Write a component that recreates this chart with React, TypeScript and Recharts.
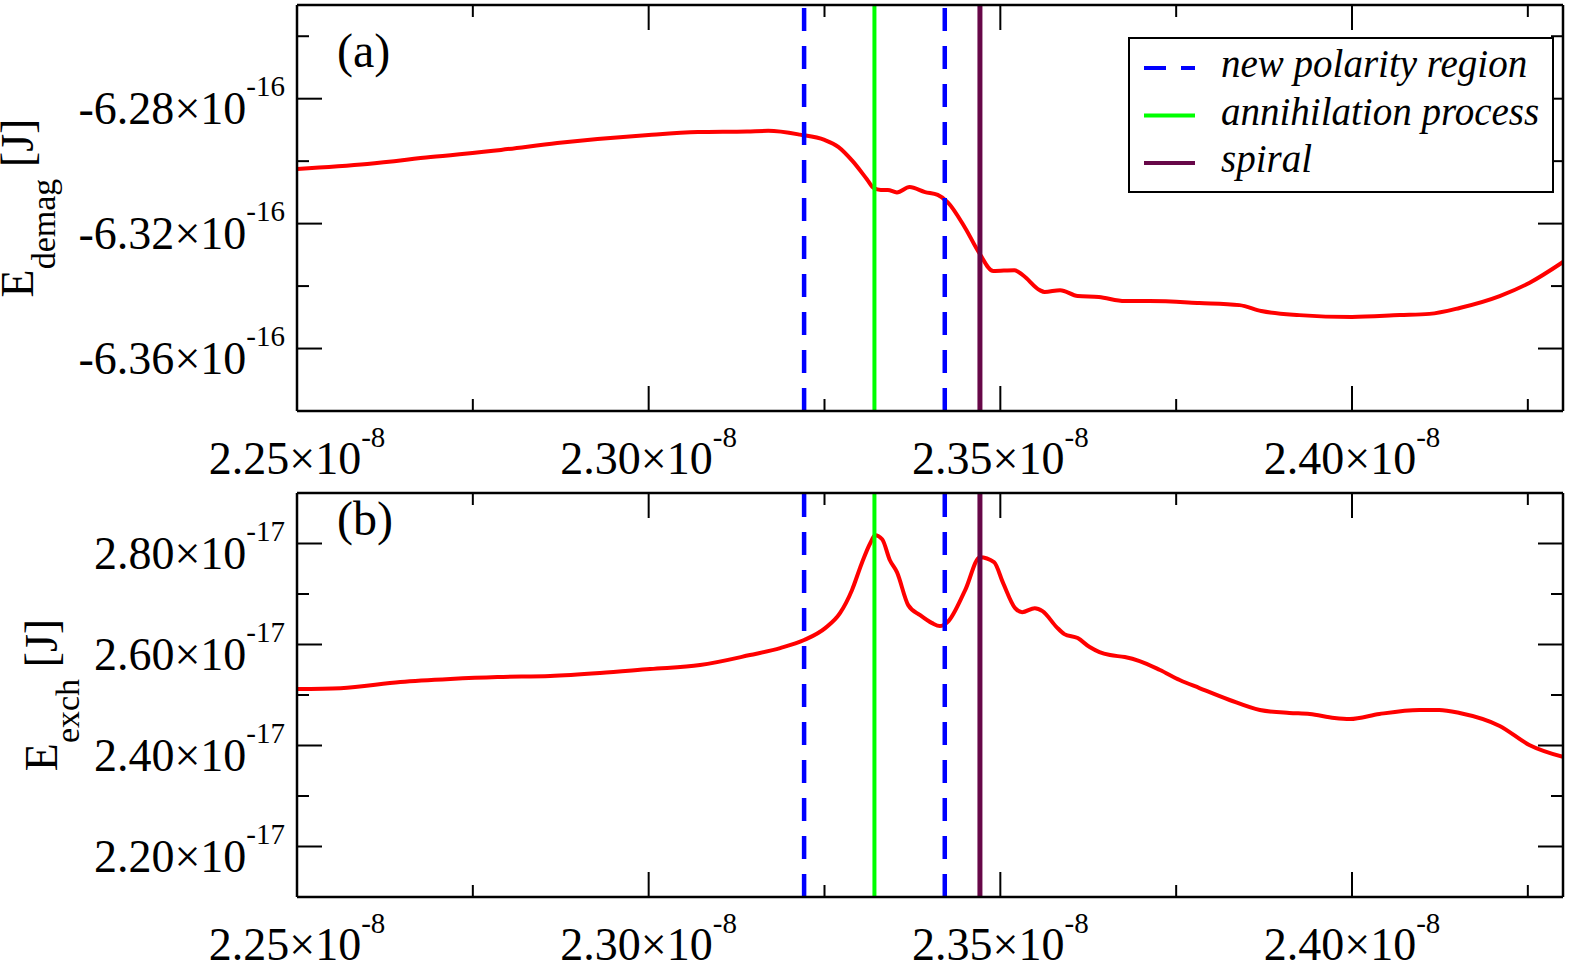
import { LineChart, Line, XAxis, YAxis, ReferenceLine, Legend, Label } from 'recharts';

const FONT = '"Liberation Serif", "Times New Roman", serif';

// time axis, in units of 1e-8 s
const X_MAJOR = [2.25, 2.3, 2.35, 2.4];
const X_MINOR = [2.275, 2.325, 2.375, 2.425];
const X_DOMAIN = [2.25, 2.43];

// panel (a): demag energy, units of 1e-16 J
const DEMAG_MAJOR = [-6.28, -6.32, -6.36];
const DEMAG_MINOR = [-6.26, -6.3, -6.34];
const DEMAG_DOMAIN = [-6.38, -6.25];
const DEMAG_T = [
  2.25, 2.26, 2.269, 2.279, 2.287, 2.3, 2.307, 2.314, 2.317, 2.3215, 2.325, 2.327, 2.329, 2.331, 2.332,
  2.333, 2.334, 2.3353, 2.3371, 2.3393, 2.3411, 2.3425, 2.345, 2.347, 2.349, 2.352, 2.3532, 2.3556,
  2.3563, 2.3585, 2.361, 2.364, 2.3677, 2.3712, 2.3783, 2.384, 2.3871, 2.3925, 2.4, 2.4068, 2.411,
  2.4153, 2.421, 2.4252, 2.43,
];
const DEMAG_E = [
  -6.3025, -6.3009, -6.2987, -6.2964, -6.2942, -6.2916, -6.2907, -6.2905, -6.2903, -6.2915, -6.2932,
  -6.2955, -6.3, -6.3057, -6.3086, -6.3092, -6.3092, -6.31, -6.3083, -6.3099, -6.3108, -6.3131, -6.3214,
  -6.3294, -6.3352, -6.3349, -6.3365, -6.3413, -6.3419, -6.3413, -6.3432, -6.3435, -6.3448, -6.3448,
  -6.3454, -6.3461, -6.348, -6.3493, -6.3499, -6.3493, -6.3489, -6.347, -6.3432, -6.339, -6.3323,
];

// panel (b): exchange energy, units of 1e-17 J
const EXCH_MAJOR = [2.2, 2.4, 2.6, 2.8];
const EXCH_MINOR = [2.3, 2.5, 2.7];
const EXCH_DOMAIN = [2.1, 2.9];
const EXCH_T = [
  2.25, 2.2562, 2.2647, 2.2718, 2.2785, 2.286, 2.2931, 2.3002, 2.3073, 2.3144, 2.3187, 2.3221, 2.3251,
  2.3272, 2.3289, 2.3303, 2.3315, 2.3322, 2.3332, 2.3343, 2.3353, 2.3369, 2.3386, 2.3403, 2.3414, 2.3425,
  2.345, 2.3471, 2.3491, 2.3504, 2.3521, 2.3531, 2.3549, 2.356, 2.358, 2.3591, 2.361, 2.3627, 2.3641,
  2.3656, 2.3677, 2.3698, 2.3727, 2.3755, 2.3783, 2.3826, 2.3869, 2.3911, 2.394, 2.3975, 2.3997, 2.4039,
  2.4096, 2.4124, 2.4153, 2.421, 2.4252, 2.43,
];
const EXCH_E = [
  2.5119, 2.5135, 2.5257, 2.5317, 2.5356, 2.5376, 2.5435, 2.5515, 2.5593, 2.5791, 2.5929, 2.6088, 2.6325,
  2.6621, 2.7076, 2.761, 2.8005, 2.8164, 2.8085, 2.7669, 2.7432, 2.678, 2.6582, 2.6424, 2.6364, 2.6443,
  2.7076, 2.7729, 2.763, 2.7215, 2.672, 2.6641, 2.672, 2.6661, 2.6345, 2.6206, 2.6127, 2.5949, 2.585,
  2.5791, 2.5751, 2.5672, 2.5494, 2.5297, 2.5138, 2.4901, 2.4703, 2.4644, 2.4624, 2.4545, 2.4525, 2.4624,
  2.4703, 2.4703, 2.4644, 2.4387, 2.4011, 2.3774,
];

// event markers
const NEW_POLARITY = [2.3221, 2.3421];
const ANNIHILATION = [2.3321];
const SPIRAL = [2.3471];

const BLUE = '#0000ff';
const GREEN = '#00ff00';
const MAROON = '#670748';
const DASH = '23 15';

const LEGEND_ITEMS = [
  { label: 'new polarity region', color: BLUE, dash: '22 15' },
  { label: 'annihilation process', color: GREEN, dash: undefined },
  { label: 'spiral', color: MAROON, dash: undefined },
];

const AXIS_LINE = { stroke: '#000', strokeWidth: 2.5 };
const near = (list: number[], v: number) => list.some((m) => Math.abs(m - v) < 1e-6);
const sorted = (a: number[], b: number[]) => [...a, ...b].sort((p, q) => p - q);

const renderBottomTick = (exp: string) => (p: any) => {
  const { x, y, payload } = p;
  const big = near(X_MAJOR, payload.value);
  return (
    <g>
      <line x1={x} x2={x} y1={y} y2={y - (big ? 25 : 12)} stroke="#000" strokeWidth={2} />
      {big && (
        <text x={x} y={y + 63} textAnchor="middle" fontFamily={FONT} fontSize={46} fill="#000">
          {payload.value.toFixed(2)}×10
          <tspan fontSize={29} dy={-27}>
            {exp}
          </tspan>
        </text>
      )}
    </g>
  );
};

const renderTopTick = (p: any) => {
  const { x, y, payload } = p;
  const big = near(X_MAJOR, payload.value);
  return <line x1={x} x2={x} y1={y} y2={y + (big ? 25 : 12)} stroke="#000" strokeWidth={2} />;
};

const renderLeftTick = (major: number[], exp: string) => (p: any) => {
  const { x, y, payload } = p;
  const big = near(major, payload.value);
  return (
    <g>
      <line x1={x} x2={x + (big ? 25 : 12)} y1={y} y2={y} stroke="#000" strokeWidth={2} />
      {big && (
        <text x={x - 12} y={y + 25} textAnchor="end" fontFamily={FONT} fontSize={46} fill="#000">
          {payload.value.toFixed(2)}×10
          <tspan fontSize={29} dy={-28}>
            {exp}
          </tspan>
        </text>
      )}
    </g>
  );
};

const renderRightTick = (major: number[]) => (p: any) => {
  const { x, y, payload } = p;
  const big = near(major, payload.value);
  return <line x1={x} x2={x - (big ? 25 : 12)} y1={y} y2={y} stroke="#000" strokeWidth={2} />;
};

const yTitle = (sub: string, baseX: number) => (p: any) => {
  const vb = p.viewBox;
  const cy = vb.y + vb.height / 2;
  return (
    <text
      transform={`translate(${baseX},${cy}) rotate(-90)`}
      textAnchor="middle"
      fontFamily={FONT}
      fontSize={46}
      fill="#000"
    >
      E
      <tspan fontSize={34} dy={22}>
        {sub}
      </tspan>
      <tspan dy={-22}> [J]</tspan>
    </text>
  );
};

const LegendBox = () => (
  <div
    style={{
      width: 426,
      height: 156,
      boxSizing: 'border-box',
      border: '2px solid #000',
      background: '#fff',
    }}
  >
    <svg width={422} height={152}>
      {LEGEND_ITEMS.map((it, i) => (
        <g key={it.label}>
          <line
            x1={14}
            x2={65}
            y1={29 + i * 47.5}
            y2={29 + i * 47.5}
            stroke={it.color}
            strokeWidth={4}
            strokeDasharray={it.dash}
          />
          <text x={91} y={38 + i * 47.5} fontFamily={FONT} fontStyle="italic" fontSize={39} fill="#000">
            {it.label}
          </text>
        </g>
      ))}
    </svg>
  </div>
);

const markers = () => [
  ...NEW_POLARITY.map((x) => (
    <ReferenceLine key={`n${x}`} x={x} xAxisId="b" yAxisId="l" stroke={BLUE} strokeWidth={4.5} strokeDasharray={DASH} />
  )),
  ...ANNIHILATION.map((x) => (
    <ReferenceLine key={`a${x}`} x={x} xAxisId="b" yAxisId="l" stroke={GREEN} strokeWidth={4} />
  )),
  ...SPIRAL.map((x) => <ReferenceLine key={`s${x}`} x={x} xAxisId="b" yAxisId="l" stroke={MAROON} strokeWidth={5} />),
];

interface PanelProps {
  height: number;
  marginTop: number;
  xAxisHeight: number;
  data: { t: number; e: number }[];
  yMajor: number[];
  yMinor: number[];
  yDomain: number[];
  yExp: string;
  ySub: string;
  titleX: number;
  tag: string;
  tagY: number;
  legend?: boolean;
}

const Panel = (p: PanelProps) => {
  const yTicks = sorted(p.yMajor, p.yMinor);
  const xTicks = sorted(X_MAJOR, X_MINOR);
  return (
    <LineChart width={1571} height={p.height} data={p.data} margin={{ top: p.marginTop, right: 7, left: 0, bottom: 0 }}>
      <XAxis
        xAxisId="b"
        dataKey="t"
        type="number"
        domain={X_DOMAIN}
        ticks={xTicks}
        interval={0}
        height={p.xAxisHeight}
        tickSize={0}
        tickMargin={0}
        tickLine={false}
        axisLine={AXIS_LINE}
        tick={renderBottomTick('-8')}
        allowDataOverflow
      />
      <XAxis
        xAxisId="t"
        dataKey="t"
        orientation="top"
        type="number"
        domain={X_DOMAIN}
        ticks={xTicks}
        interval={0}
        height={1}
        tickSize={0}
        tickMargin={0}
        tickLine={false}
        axisLine={AXIS_LINE}
        tick={renderTopTick}
        allowDataOverflow
      />
      <YAxis
        yAxisId="l"
        type="number"
        domain={p.yDomain}
        ticks={yTicks}
        interval={0}
        width={297}
        tickSize={0}
        tickMargin={0}
        tickLine={false}
        axisLine={AXIS_LINE}
        tick={renderLeftTick(p.yMajor, p.yExp)}
        allowDataOverflow
      >
        <Label content={yTitle(p.ySub, p.titleX)} />
      </YAxis>
      <YAxis
        yAxisId="r"
        orientation="right"
        type="number"
        domain={p.yDomain}
        ticks={yTicks}
        interval={0}
        width={1}
        tickSize={0}
        tickMargin={0}
        tickLine={false}
        axisLine={AXIS_LINE}
        tick={renderRightTick(p.yMajor)}
        allowDataOverflow
      />
      {/* invisible twin so the mirrored top/right axes get the same scale */}
      <Line
        xAxisId="t"
        yAxisId="r"
        dataKey="e"
        type="monotone"
        stroke="none"
        dot={false}
        activeDot={false}
        isAnimationActive={false}
      />
      <Line
        xAxisId="b"
        yAxisId="l"
        dataKey="e"
        type="monotone"
        stroke="#ff0000"
        strokeWidth={4}
        dot={false}
        isAnimationActive={false}
      />
      {markers()}
      <text x={337} y={p.tagY} fontFamily={FONT} fontSize={48} fill="#000">
        {p.tag}
      </text>
      {p.legend && (
        <Legend
          layout="horizontal"
          verticalAlign="middle"
          align="center"
          content={LegendBox}
          wrapperStyle={{ left: 1128, top: 37, width: 426, height: 156 }}
        />
      )}
    </LineChart>
  );
};

const demagData = DEMAG_T.map((t, i) => ({ t, e: DEMAG_E[i] }));
const exchData = EXCH_T.map((t, i) => ({ t, e: EXCH_E[i] }));

export default function App() {
  return (
    <div style={{ position: 'absolute', left: 0, top: 0, width: 1571, height: 965, background: '#fff' }}>
      <Panel
        height={480}
        marginTop={4}
        xAxisHeight={69}
        data={demagData}
        yMajor={DEMAG_MAJOR}
        yMinor={DEMAG_MINOR}
        yDomain={DEMAG_DOMAIN}
        yExp="-16"
        ySub="demag"
        titleX={33}
        tag="(a)"
        tagY={67}
        legend
      />
      <Panel
        height={485}
        marginTop={12}
        xAxisHeight={68}
        data={exchData}
        yMajor={EXCH_MAJOR}
        yMinor={EXCH_MINOR}
        yDomain={EXCH_DOMAIN}
        yExp="-17"
        ySub="exch"
        titleX={57}
        tag="(b)"
        tagY={55}
      />
    </div>
  );
}
